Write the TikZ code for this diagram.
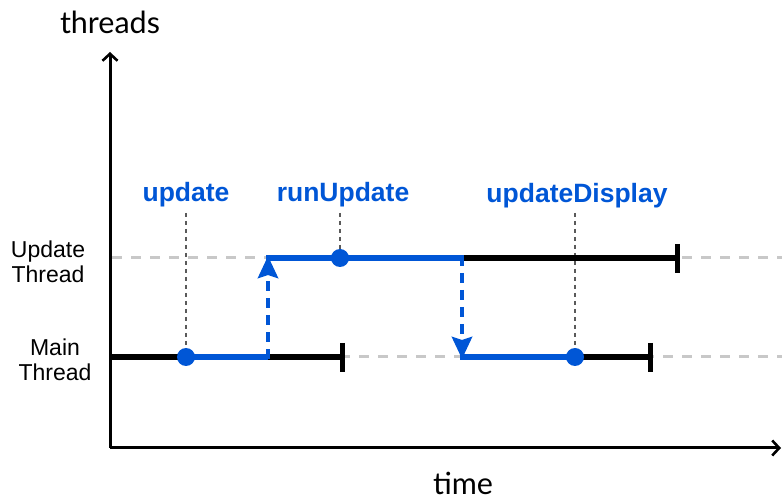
\documentclass[tikz,border=0pt]{standalone}
\usepackage{fontspec}
\setmainfont{Liberation Sans}
\newfontfamily\axisfont{Lato}
\usetikzlibrary{arrows.meta}
\definecolor{runblue}{RGB}{0,86,214}
\definecolor{guide}{RGB}{200,200,200}
\definecolor{marker}{RGB}{90,90,90}
\tikzset{
  axisline/.style={line width=3pt,-{Straight Barb[length=7pt,width=15pt,line width=2.6pt]}},
  axislabel/.style={font=\axisfont\fontsize{30.5}{33}\selectfont,text=black},
  lanelabel/.style={font=\fontsize{23}{25}\selectfont,align=center,text=black},
  calllabel/.style={font=\bfseries\fontsize{26.5}{29}\selectfont,text=runblue},
  guideline/.style={guide,line width=3pt,dash pattern=on 10pt off 9pt},
  idle/.style={black,line width=5.5pt},
  busy/.style={runblue,line width=5.5pt},
  endtick/.style={black,line width=5pt},
  handoff/.style={runblue,line width=4.5pt,dash pattern=on 10pt off 7pt,
    -{Stealth[length=22pt,width=20pt,inset=3pt]}},
  callmark/.style={marker,line width=2pt,dash pattern=on 4pt off 4pt},
  calldot/.style={circle,fill=runblue,inner sep=0pt,minimum size=18pt},
}
\begin{document}
\begin{tikzpicture}[x=1pt,y=-1pt]
\useasboundingbox (0,0) rectangle (782,502);

% axes
\coordinate (O) at (110,448);
\coordinate (ytop) at (110,52);
\coordinate (xend) at (781,448);
\draw[axisline] (O) -- (ytop);
\draw[axisline] (O) -- (xend);
\node[axislabel] (tlabel) at (110,22) {threads};
\node[axislabel] (xlabel) at (463,483) {time};

% lane labels
\node[lanelabel] (ulane) at (48,262) {Update\\Thread};
\node[lanelabel] (mlane) at (55,360) {Main\\Thread};

% lane guides
\coordinate (u0) at (112,258);
\coordinate (u9) at (782,258);
\coordinate (m0) at (112,357);
\coordinate (m9) at (782,357);
\draw[guideline] (u0) -- (u9);
\draw[guideline] (m0) -- (m9);

% key points
\coordinate (mA) at (110,357);
\coordinate (mB) at (186,357);
\coordinate (mC) at (268,357);
\coordinate (mD) at (342,357);
\coordinate (mE) at (462,357);
\coordinate (mF) at (575,357);
\coordinate (mG) at (650,357);
\coordinate (uC) at (268,258);
\coordinate (uB) at (340,258);
\coordinate (uE) at (462,258);
\coordinate (uG) at (677,258);

% call markers
\node[calllabel] (lupdate) at (186,195) {update};
\node[calllabel] (lrun) at (343,195) {runUpdate};
\node[calllabel] (ldisp) at (577,196) {updateDisplay};
\coordinate (kupdate) at (186,213);
\coordinate (krun) at (340,213);
\coordinate (kdisp) at (575,213);
\draw[callmark] (kupdate) -- (mB);
\draw[callmark] (krun) -- (uB);
\draw[callmark] (kdisp) -- (mF);

% thread activity
\draw[idle] (mA) -- (mD);
\draw[idle] (uE) -- (uG);
\draw[idle] (mF) -- (mG);
\draw[busy] (mB) -- (mC);
\draw[busy] ([xshift=-2pt]uC) -- ([xshift=2pt]uE);
\draw[busy] ([xshift=-2pt]mE) -- (mF);

% end ticks
\draw[endtick] (342,343) -- (342,372);
\draw[endtick] (677,244) -- (677,273);
\draw[endtick] (650,343) -- (650,372);

% hand-offs between threads
\draw[handoff] ([yshift=-2pt]mC) -- ([yshift=2pt]uC);
\draw[handoff] ([yshift=2pt]uE) -- ([yshift=-2pt]mE);

% call dots
\node[calldot] (dupdate) at (mB) {};
\node[calldot] (drun) at (uB) {};
\node[calldot] (ddisp) at (mF) {};
\end{tikzpicture}
\end{document}
